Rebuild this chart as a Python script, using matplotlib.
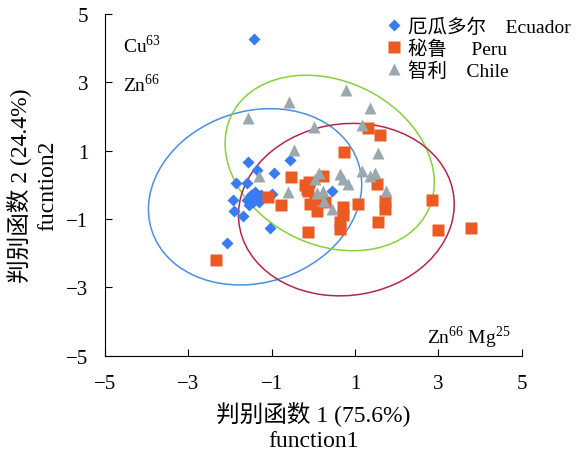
import matplotlib
matplotlib.use('Agg')
import matplotlib.pyplot as plt
from matplotlib.patches import Ellipse

plt.rcParams['font.family'] = ['Liberation Serif', 'Noto Sans CJK SC']
plt.rcParams['mathtext.fontset'] = 'custom'
plt.rcParams['mathtext.rm'] = 'Liberation Serif'
plt.rcParams['axes.unicode_minus'] = True

# 厄瓜多尔 Ecuador
ecuador_x = [-1.42, -1.56, -0.56, -1.36, -0.94, -1.60, -1.86, -1.94, -1.90, -1.70,
             -1.04, -2.07, 0.44, -1.00, -1.50, -1.40, -1.35, -1.45, -1.55, -1.30,
             -1.40, -1.60, -1.25]
ecuador_y = [4.28, 0.67, 0.73, 0.44, 0.36, 0.05, 0.04, -0.43, -0.78, -0.92,
             -1.25, -1.70, -0.19, -0.27, -0.30, -0.20, -0.40, -0.50, -0.60, -0.50,
             -0.35, -0.45, -0.30]

# 秘鲁 Peru
peru_x = [-2.34, -0.54, -1.08, -0.78, -0.12, -0.10, 0.24, -0.12, 0.04, -0.08,
          0.08, 0.28, 0.72, 0.70, 0.64, 0.64, 1.08, 1.52, 1.72, 1.72,
          1.56, 0.74, 1.32, 1.60, 2.84, 2.98, 3.78, -0.16, -0.20]
peru_y = [-2.19, 0.23, -0.37, -0.59, -1.37, 0.07, 0.26, -0.18, -0.42, -0.56,
          -0.76, -0.50, -0.66, -0.89, -1.08, -1.28, -0.56, 0.02, -0.47, -0.71,
          -1.10, 0.96, 1.65, 1.45, -0.45, -1.32, -1.27, -0.13, 0.00]

# 智利 Chile
chile_x = [-1.56, -0.58, 0.78, 1.36, 1.16, 0.02, 1.54, -0.46, -1.30, -0.62,
           0.14, 0.04, 0.64, 0.72, 0.82, 0.24, 0.08, 0.26, 0.44, 1.16,
           1.36, 1.48, 1.74]
chile_y = [1.95, 2.43, 2.77, 2.24, 1.75, 1.68, 0.92, 1.02, 0.26, -0.20,
           0.36, 0.17, 0.31, 0.17, 0.02, -0.18, -0.24, -0.47, -0.71, 0.41,
           0.25, 0.36, -0.18]

fig = plt.figure(figsize=(5.76, 4.56), dpi=100)
ax = fig.add_axes([0.1823, 0.2178, 0.7237, 0.7493])

# 置信椭圆
ax.add_patch(Ellipse((-1.40, -0.35), 5.49, 4.76, angle=46.7, fill=False,
                     edgecolor='#4a8fe0', lw=1.1, zorder=1))
ax.add_patch(Ellipse((0.39, 0.64), 5.62, 4.47, angle=-48.0, fill=False,
                     edgecolor='#86d13a', lw=1.1, zorder=1))
ax.add_patch(Ellipse((0.79, -0.725), 5.28, 4.94, angle=33.9, fill=False,
                     edgecolor='#b3264f', lw=1.1, zorder=1))

ax.plot(ecuador_x, ecuador_y, 'D', ms=6, color='#3b7bf2', mec='none',
        label='厄瓜多尔    Ecuador', zorder=3)
ax.plot(peru_x, peru_y, 's', ms=8, color='#ec5a24', mec='none',
        label='秘鲁     Peru', zorder=3)
ax.plot(chile_x, chile_y, '^', ms=8, color='#9aa9ae', mec='none',
        label='智利    Chile', zorder=4)

ax.set_xlim(-5, 5)
ax.set_ylim(-5, 5)
ax.set_xticks([-5, -3, -1, 1, 3, 5])
ax.set_yticks([-5, -3, -1, 1, 3, 5])
ax.spines['top'].set_visible(False)
ax.spines['right'].set_visible(False)
ax.tick_params(direction='in', length=5, labelsize=15)
ax.tick_params(axis='x', pad=13)
ax.tick_params(axis='y', pad=12)

ax.text(-4.57, 4.11, 'Cu$^{63}$', fontsize=14, va='center')
ax.text(-4.57, 2.97, 'Zn$^{66}$', fontsize=14, va='center')
ax.text(2.72, -4.45, 'Zn$^{66}$ Mg$^{25}$', fontsize=14, va='center')

ax.set_xlabel('判别函数 1 (75.6%)\nfunction1', fontsize=17, linespacing=1.35, labelpad=5)
ax.set_ylabel('判别函数 2 (24.4%)\nfucntion2', fontsize=17, linespacing=1.35, labelpad=6)

ax.legend(loc='upper left', bbox_to_anchor=(0.652, 1.012), frameon=False, fontsize=14,
          handletextpad=0.2, labelspacing=0.17, borderaxespad=0, handlelength=1.0)

fig.savefig('out.png', dpi=100)
